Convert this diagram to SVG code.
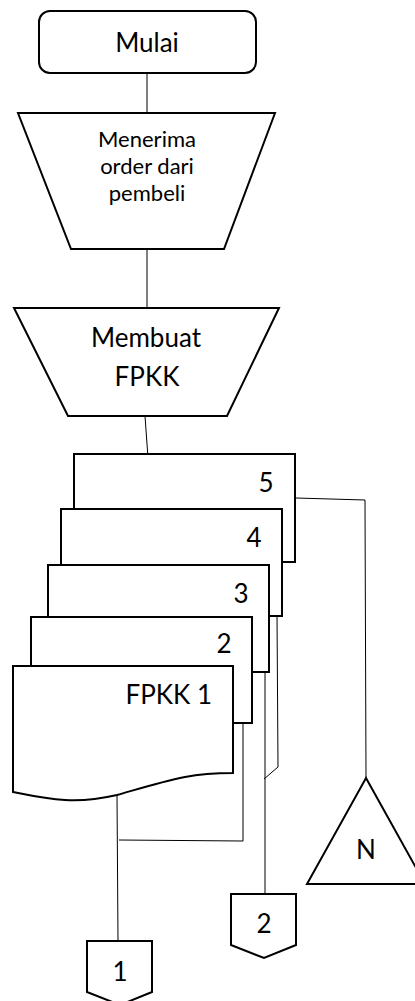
<svg xmlns="http://www.w3.org/2000/svg" width="415" height="1001" viewBox="0 0 415 1001">
  <style>
    .shape { fill: #ffffff; stroke: #000000; stroke-width: 2; stroke-linejoin: miter; }
    .conn { fill: none; stroke: #000000; stroke-width: 1; }
    text { font-family: Lato, "Open Sans", "Liberation Sans", sans-serif; fill: #000000; }
    .big { font-size: 26px; }
    .small { font-size: 22px; }
    .c { text-anchor: middle; }
  </style>
  <rect width="415" height="1001" fill="#ffffff"/>
  <g id="connectors">
    <path class="conn" d="M147,70 L147,113"/>
    <path class="conn" d="M147,249 L147,308"/>
    <path class="conn" d="M145,416 L148,458"/>
    <path class="conn" d="M296,498 L365,500 L366,778"/>
    <path class="conn" d="M277,614 L278,767 L264,779"/>
    <path class="conn" d="M265,670 L265,894"/>
    <path class="conn" d="M243,723 L243,841 L119,840"/>
    <path class="conn" d="M117,795 L118,941"/>
  </g>
  <g id="mulai">
    <rect class="shape" x="39" y="11" width="217" height="62" rx="11" ry="11"/>
    <text class="big c" x="147" y="52">Mulai</text>
  </g>
  <g id="menerima-order">
    <polygon class="shape" points="18,113 275,113 224,249 71,249"/>
    <text class="small c" x="147" y="147">Menerima</text>
    <text class="small c" x="147" y="174">order dari</text>
    <text class="small c" x="147" y="201">pembeli</text>
  </g>
  <g id="membuat-fpkk">
    <polygon class="shape" points="14,308 279,308 227,416 68,416"/>
    <text class="big c" x="146" y="347">Membuat</text>
    <text class="big c" x="147" y="386">FPKK</text>
  </g>
  <g id="fpkk-5">
    <rect class="shape" x="74" y="454" width="221" height="108"/>
    <text class="big c" x="266" y="492">5</text>
  </g>
  <g id="fpkk-4">
    <rect class="shape" x="61" y="509" width="221" height="107"/>
    <text class="big c" x="254" y="547">4</text>
  </g>
  <g id="fpkk-3">
    <rect class="shape" x="48" y="565" width="221" height="107"/>
    <text class="big c" x="241" y="603">3</text>
  </g>
  <g id="fpkk-2">
    <rect class="shape" x="31" y="617" width="221" height="106"/>
    <text class="big c" x="224" y="653">2</text>
  </g>
  <g id="fpkk-1">
    <path class="shape" d="M13,666 L233,666 L233,773 C215,773 200,774 185,777 C160,782 135,790 117,795 C95,800 80,801 65,800 C45,799 28,795 13,792 Z"/>
    <text class="big" x="212" y="704" text-anchor="end">FPKK 1</text>
  </g>
  <g id="arsip-n">
    <polygon class="shape" points="366,778 425,884 307,884"/>
    <text class="big c" x="366" y="859">N</text>
  </g>
  <g id="offpage-2">
    <polygon class="shape" points="231,894 296,894 296,945 264,958 231,945"/>
    <text class="big c" x="264" y="933">2</text>
  </g>
  <g id="offpage-1">
    <polygon class="shape" points="87,941 152,941 152,992 120,1005 87,992"/>
    <text class="big c" x="120" y="981">1</text>
  </g>
</svg>
